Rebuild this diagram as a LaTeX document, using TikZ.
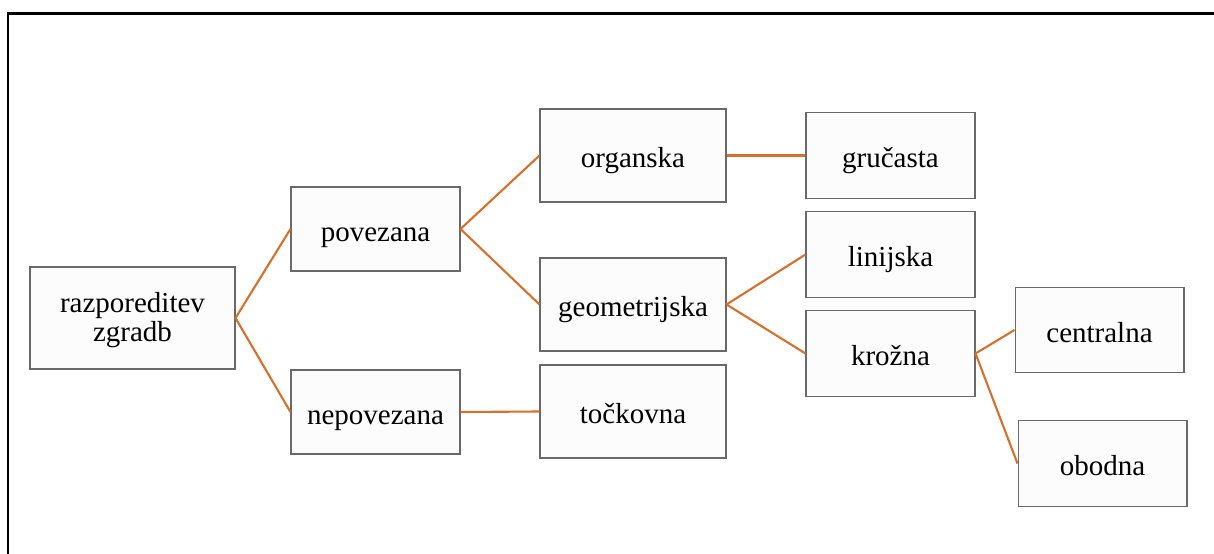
\documentclass[tikz,border=0pt]{standalone}
\usepackage{fontspec}
\setmainfont{Liberation Serif}

\definecolor{branch}{RGB}{214,112,42}
\definecolor{boxline}{RGB}{105,105,105}

\begin{document}
\begin{tikzpicture}[
    x=0.02cm, y=-0.02cm,
    box/.style={rectangle, draw=boxline, fill=black!1, line width=0.6pt,
        inner sep=0pt, align=center, text height=14pt, text depth=0pt,
        font=\fontsize{16.5}{16.5}\selectfont},
    rootbox/.style={box, minimum width=4.1cm, minimum height=2.04cm, text height=27.3pt},
    midbox/.style={box, minimum width=3.38cm, minimum height=1.68cm},
    bigbox/.style={box, minimum width=3.72cm, minimum height=1.86cm},
    leafbox/.style={box, minimum width=3.38cm, minimum height=1.71cm},
    conn/.style={branch, line width=1.2pt}
]

% -------- Layout --------
\def\xroot{132.5}
\def\xtwo{375.5}
\def\xthree{633}
\def\xfour{890.5}

\useasboundingbox (0,0) rectangle (1214,554);

% -------- Frame --------
\draw[line width=0.06cm] (8,554) -- (8,13.5) -- (1214,13.5);

% -------- Boxes --------
\node[rootbox] (root) at (\xroot,318) {razporeditev\\zgradb};

\node[midbox] (povezana) at (\xtwo,229) {povezana};
\node[midbox] (nepovezana) at (\xtwo,412) {nepovezana};

\node[bigbox] (organska) at (\xthree,155.5) {organska};
\node[bigbox] (geometrijska) at (\xthree,304.5) {geometrijska};
\node[bigbox] (tockovna) at (\xthree,411.5) {točkovna};

\node[leafbox] (grucasta) at (\xfour,155.5) {gručasta};
\node[leafbox] (linijska) at (\xfour,254.5) {linijska};
\node[leafbox] (krozna) at (\xfour,353.5) {krožna};

\node[leafbox] (centralna) at (1099.5,330) {centralna};
\node[leafbox] (obodna) at (1102.5,463.5) {obodna};

% -------- Branches --------
\draw[conn] (root.east) -- (povezana.west);
\draw[conn] (root.east) -- (nepovezana.west);

\draw[conn] (povezana.east) -- (organska.west);
\draw[conn] (povezana.east) -- (geometrijska.west);
\draw[conn] (nepovezana.east) -- (tockovna.west);

\draw[conn] (organska.east) -- (grucasta.west);
\draw[conn] (geometrijska.east) -- (linijska.west);
\draw[conn] (geometrijska.east) -- (krozna.west);

\draw[conn] (krozna.east) -- (centralna.west);
\draw[conn] (krozna.east) -- (obodna.west);

\end{tikzpicture}
\end{document}
